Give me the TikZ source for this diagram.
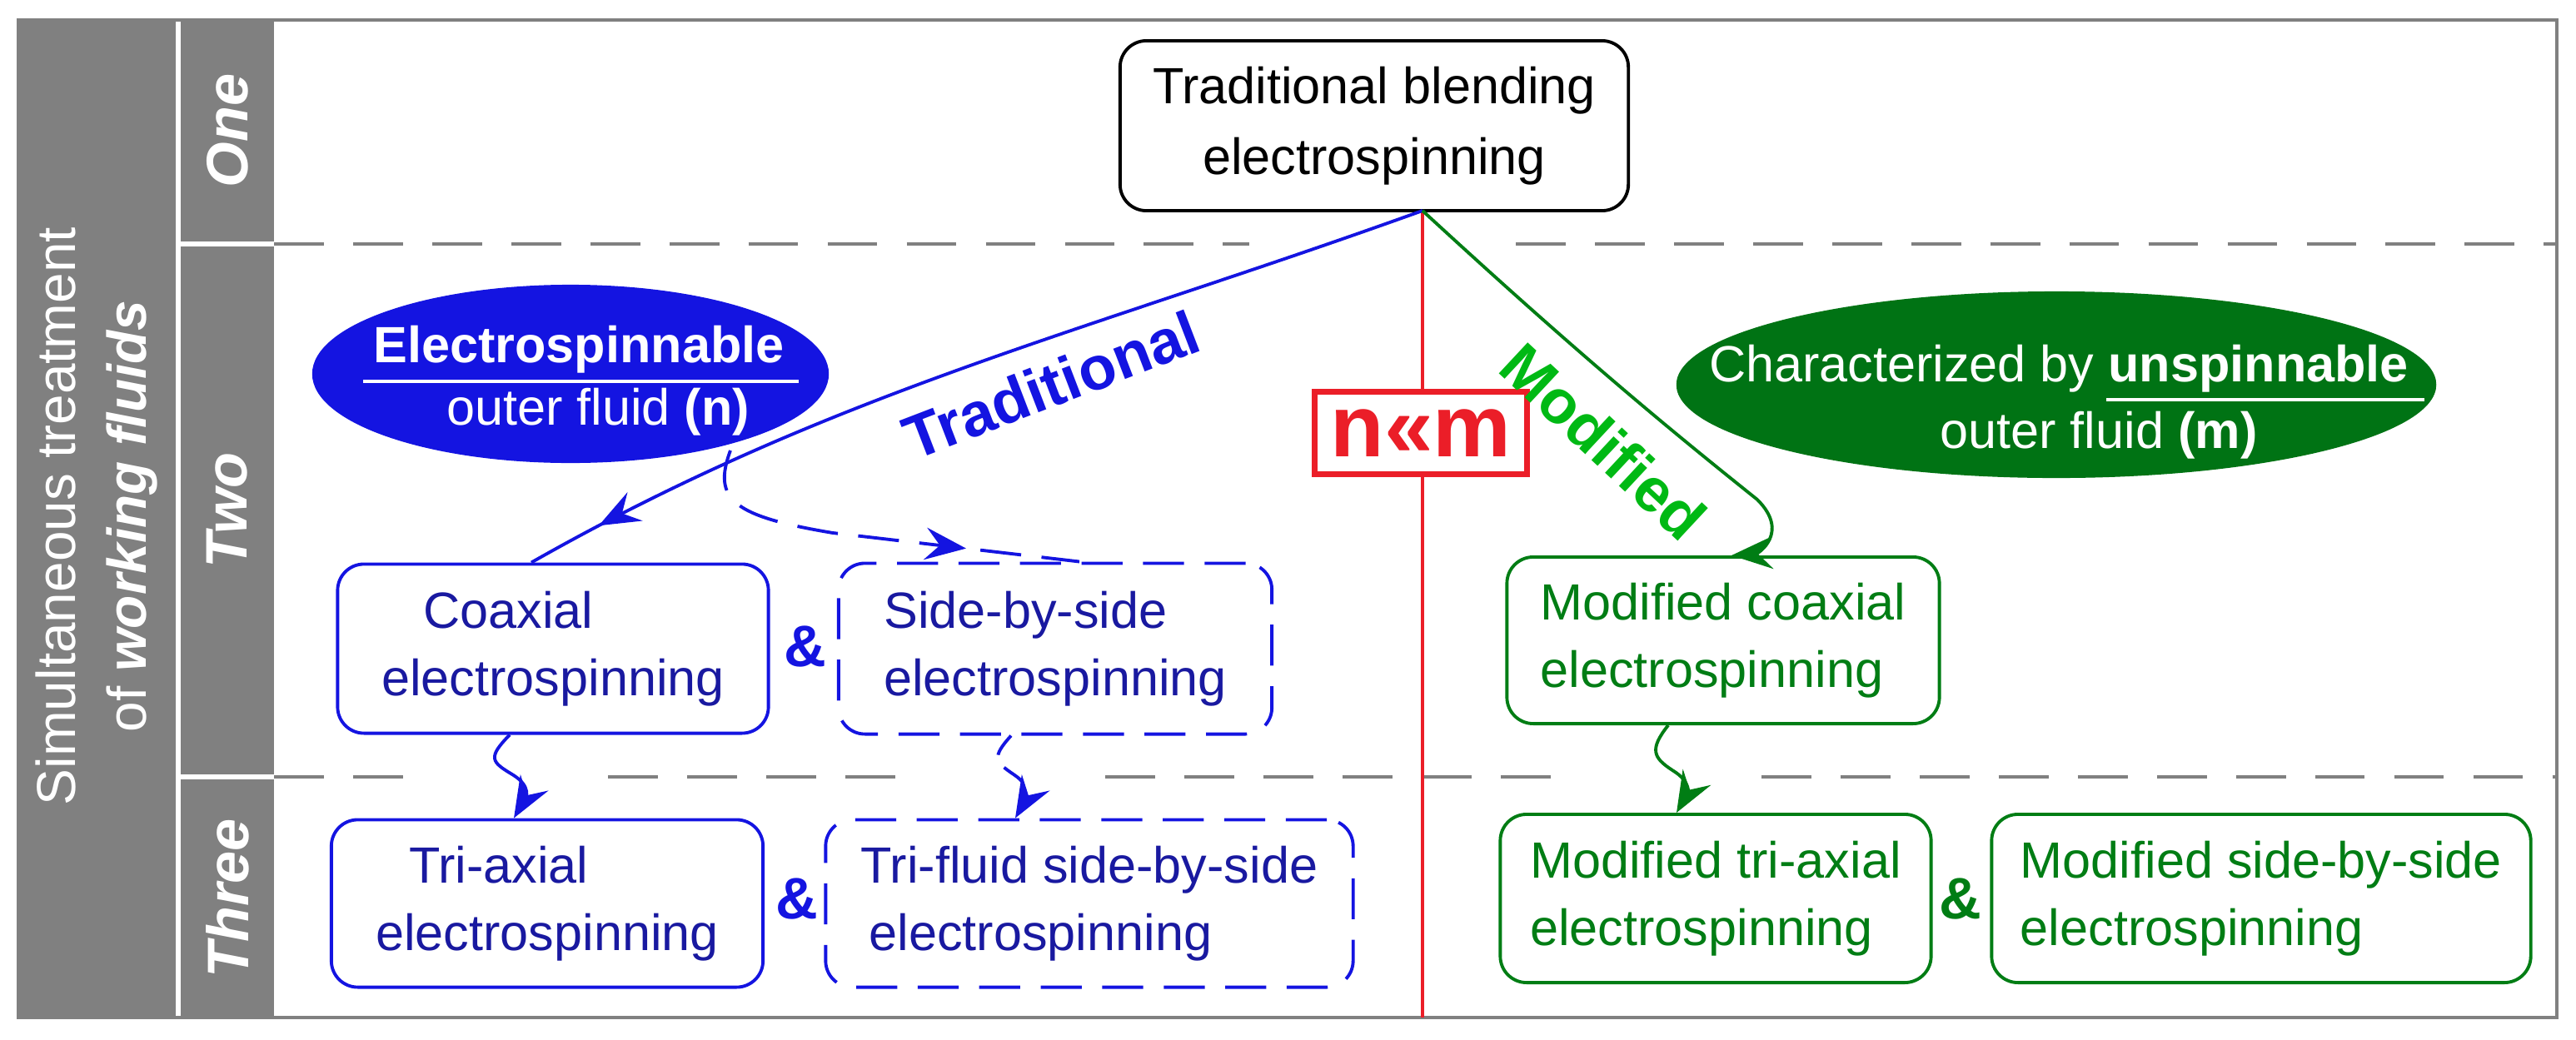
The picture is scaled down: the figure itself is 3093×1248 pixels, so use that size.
\documentclass[tikz,border=0pt]{standalone}
\usepackage{fontspec}
\setmainfont{Liberation Sans}
\usetikzlibrary{shapes.geometric,arrows.meta,calc,decorations.markings}
\definecolor{gr}{RGB}{128,128,128}
\definecolor{bl}{RGB}{20,20,225}
\definecolor{bltxt}{RGB}{25,25,160}
\definecolor{gn}{RGB}{0,125,20}
\definecolor{gnfill}{RGB}{0,115,20}
\definecolor{gnlab}{RGB}{0,185,20}
\definecolor{rd}{RGB}{235,30,40}
\begin{document}
\begin{tikzpicture}[x=0.01cm,y=-0.01cm,
  box/.style={draw,rounded corners=9pt,line width=1.1pt,inner sep=0pt,align=left,font=\fontsize{17.4}{23}\selectfont},
  bbox/.style={box,bl,text=bltxt},
  gbox/.style={box,gn,text=gn},
  dsh/.style={dash pattern=on 14pt off 7pt},
  tip/.style={-{Stealth[length=14pt,width=11pt,inset=5pt]}},
  arr/.style={line width=1.1pt,tip},
  midarr/.style={line width=1.1pt,postaction={decorate},decoration={markings,mark=at position #1 with {\arrow[solid]{Stealth[length=14pt,width=11pt,inset=5pt]}}}},
  lab/.style={white,font=\bfseries\itshape\fontsize{20}{24}\selectfont,rotate=90},
  etxt/.style={white,align=center,font=\fontsize{17.4}{21}\selectfont},
  gdash/.style={gr,line width=1.3pt,dash pattern=on 17pt off 10pt}]
\useasboundingbox (0,0) rectangle (3093,1248);
% left columns
\fill[gr] (22,24) rectangle (211,1222);
\fill[gr] (217,24) rectangle (329,290);
\fill[gr] (217,296) rectangle (329,930);
\fill[gr] (217,936) rectangle (329,1222);
\draw[gr,line width=1.1pt] (22,24) rectangle (3070,1222);
\node[white,rotate=90,align=center,font=\fontsize{18.7}{24}\selectfont] (side) at (116,620) {Simultaneous treatment\\of \textbf{\textit{working fluids}}};
\node[lab] (one) at (273,157) {One};
\node[lab] (two) at (273,613) {Two};
\node[lab] (three) at (273,1079) {Three};
% dashed separators
\draw[gdash] (329,293) -- (1500,293);
\draw[gdash] (1820,293) -- (3070,293);
\draw[gdash] (329,933) -- (510,933);
\draw[gdash] (730,933) -- (1107,933);
\draw[gdash] (1327,933) -- (1896,933);
\draw[gdash] (2115,933) -- (3070,933);
% top node
\node[draw,rounded corners=9pt,line width=1.1pt,minimum width=6.1cm,minimum height=2.04cm,inner sep=0pt,align=center,font=\fontsize{17.4}{24}\selectfont] (tb) at (1650,151) {Traditional blending\\electrospinning};
\coordinate (apex) at (1708,253);
% red line and box
\draw[rd,line width=0.9pt] (apex) -- (1708,1222);
\node[draw=rd,fill=white,line width=2pt,minimum width=2.54cm,minimum height=0.98cm,inner sep=0pt,text=rd,font=\bfseries\fontsize{30}{30}\selectfont] (nm) at (1706,520) {n«m};
% ellipses
\node[ellipse,fill=bl,minimum width=6.2cm,minimum height=2.14cm,inner sep=0pt] (be) at (685,449) {};
\node[etxt,font=\bfseries\fontsize{17.4}{21}\selectfont] (bt1) at (695,420) {Electrospinnable};
\node[etxt] (bt2) at (718,495) {outer fluid \textbf{(n)}};
\draw[white,line width=1.3pt] (436,458) -- (959,458);
\node[ellipse,fill=gnfill,minimum width=9.12cm,minimum height=2.24cm,inner sep=0pt] (ge) at (2469,462) {};
\node[etxt] (gt1) at (2472,443) {Characterized by \textbf{unspinnable}};
\node[etxt] (gt2) at (2520,523) {outer fluid \textbf{(m)}};
\draw[white,line width=1.3pt] (2529,480) -- (2911,480);
% blue boxes
\node[bbox,minimum width=5.17cm,minimum height=2.03cm] (coax) at (664,779) {\hspace*{0.5cm}Coaxial\\electrospinning};
\node[bbox,dsh,minimum width=5.2cm,minimum height=2.05cm] (sbs) at (1267,779) {Side-by-side\\electrospinning};
\node[bbox,minimum width=5.18cm,minimum height=2.01cm] (tri) at (657,1085) {\hspace*{0.4cm}Tri-axial\\electrospinning};
\node[bbox,dsh,minimum width=6.33cm,minimum height=2.01cm] (trif) at (1308,1085) {Tri-fluid side-by-side\\\hspace*{0.1cm}electrospinning};
\node[bl,font=\bfseries\fontsize{20}{24}\selectfont] (amp1) at (967,776) {\&};
\node[bl,font=\bfseries\fontsize{20}{24}\selectfont] (amp2) at (957,1079) {\&};
% green boxes
\node[gbox,minimum width=5.19cm,minimum height=2.0cm] (mcoax) at (2069,769) {Modified coaxial\\electrospinning};
\node[gbox,minimum width=5.17cm,minimum height=2.02cm] (mtri) at (2060,1079) {Modified tri-axial\\electrospinning};
\node[gbox,minimum width=6.47cm,minimum height=2.02cm] (msbs) at (2715,1079) {Modified side-by-side\\electrospinning};
\node[gn,font=\bfseries\fontsize{20}{24}\selectfont] (amp3) at (2354,1079) {\&};
% connectors
\draw[bl,midarr=0.92] (apex) .. controls (1300,400) and (1000,470) .. (coax.north -| 638,0);
\draw[bl,midarr=0.72,dsh] (877,541) .. controls (855,600) and (880,620) .. (1000,640) -- (sbs.north -| 1296,0);
\draw[gn,arr] (apex) .. controls (1900,430) and (2010,520) .. (2110,600) .. controls (2150,640) and (2110,665) .. (mcoax.north -| 2079,0);
\draw[bl,arr] (coax.south -| 612,0) .. controls (585,910) and (590,915) .. (615,930) .. controls (640,945) and (630,960) .. (tri.north -| 617,0);
\draw[bl,arr,dash pattern=on 8pt off 5pt] (sbs.south -| 1214,0) .. controls (1190,910) and (1195,915) .. (1217,930) .. controls (1240,945) and (1232,960) .. (trif.north -| 1219,0);
\draw[gn,arr] (mcoax.south -| 2003,0) .. controls (1980,900) and (1985,910) .. (2008,925) .. controls (2033,940) and (2025,955) .. (mtri.north -| 2013,0);
% labels
\node[bl,rotate=21,font=\bfseries\fontsize{21}{24}\selectfont] (tl) at (1262,462) {Traditional};
\node[gnlab,rotate=-43,font=\bfseries\fontsize{21}{24}\selectfont] (ml) at (1925,530) {Modified};
\end{tikzpicture}
\end{document}
